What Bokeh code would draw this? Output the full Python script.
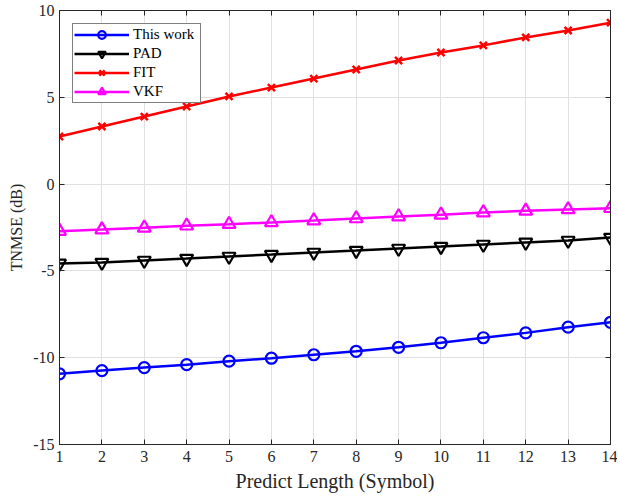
from bokeh.plotting import figure
from bokeh.models import Range1d, LinearAxis, FixedTicker
from bokeh.embed import file_html
from bokeh.resources import INLINE

# ---- data ----
predict_length = list(range(1, 15))
this_work = [-10.93, -10.74, -10.57, -10.40, -10.20, -10.03, -9.83, -9.63, -9.40, -9.14, -8.85, -8.57, -8.24, -7.96]
pad = [-4.57, -4.52, -4.40, -4.29, -4.17, -4.06, -3.94, -3.83, -3.71, -3.60, -3.48, -3.36, -3.25, -3.08]
fit = [2.74, 3.32, 3.89, 4.47, 5.05, 5.56, 6.08, 6.60, 7.12, 7.58, 7.99, 8.45, 8.85, 9.30]
vkf = [-2.71, -2.62, -2.52, -2.40, -2.31, -2.21, -2.10, -1.98, -1.87, -1.77, -1.64, -1.54, -1.46, -1.39]
x_ticks = list(range(1, 15))
y_ticks = [-15, -10, -5, 0, 5, 10]

AX = "#262626"
FONT = "Liberation Serif"

p = figure(frame_width=551, frame_height=434,
           x_range=Range1d(1, 14), y_range=Range1d(-15, 10),
           output_backend="svg", toolbar_location=None,
           min_border_left=59, min_border_top=10, min_border_right=7, min_border_bottom=52,
           x_axis_label="Predict Length (Symbol)", y_axis_label="TNMSE (dB)")

p.background_fill_color = "white"
p.border_fill_color = "white"
p.outline_line_color = AX
p.outline_line_width = 1

for ax in (p.xaxis[0], p.yaxis[0]):
    ax.major_tick_in = 5
    ax.major_tick_out = 0
    ax.minor_tick_line_color = None
    ax.axis_line_color = AX
    ax.major_tick_line_color = AX
    ax.major_label_text_font = FONT
    ax.major_label_text_font_size = "16px"
    ax.major_label_text_color = AX
    ax.axis_label_text_font = FONT
    ax.axis_label_text_font_style = "normal"
    ax.axis_label_text_color = AX

p.xaxis[0].ticker = FixedTicker(ticks=x_ticks)
p.yaxis[0].ticker = FixedTicker(ticks=y_ticks)
p.xaxis[0].major_label_overrides = {t: str(t) for t in x_ticks}
p.yaxis[0].major_label_overrides = {t: str(t) for t in y_ticks}
p.xaxis[0].major_label_standoff = 6
p.xaxis[0].axis_label_standoff = 5
p.xaxis[0].axis_label_text_font_size = "20px"
p.yaxis[0].major_label_standoff = 5
p.yaxis[0].axis_label_standoff = 5
p.yaxis[0].axis_label_text_font_size = "16px"

# box ticks on top and right (no labels)
top = LinearAxis(ticker=FixedTicker(ticks=x_ticks))
right = LinearAxis(ticker=FixedTicker(ticks=y_ticks))
for ax in (top, right):
    ax.major_tick_in = 5
    ax.major_tick_out = 0
    ax.minor_tick_line_color = None
    ax.axis_line_color = AX
    ax.major_tick_line_color = AX
    ax.major_label_text_font_size = "0px"
    ax.major_label_text_color = None
    ax.major_label_standoff = 0
p.add_layout(top, "above")
p.add_layout(right, "right")

p.xgrid.ticker = FixedTicker(ticks=x_ticks)
p.ygrid.ticker = FixedTicker(ticks=y_ticks)
p.grid.grid_line_color = "#e0e0e0"
p.grid.grid_line_width = 1

LW = 2.5
p.line(predict_length, this_work, color="#0000ff", line_width=LW, legend_label="This work")
p.scatter(predict_length, this_work, marker="circle", size=11, line_color="#0000ff",
          fill_color=None, line_width=2.2, legend_label="This work")
p.line(predict_length, pad, color="black", line_width=LW, legend_label="PAD")
p.scatter(predict_length, pad, marker="inverted_triangle", size=13, line_color="black",
          fill_color=None, line_width=2.2, legend_label="PAD")
p.line(predict_length, fit, color="#ff0000", line_width=LW, legend_label="FIT")
p.scatter(predict_length, fit, marker="x", size=10, line_color="#ff0000",
          line_width=2.5, legend_label="FIT")
p.line(predict_length, vkf, color="#ff00ff", line_width=LW, legend_label="VKF")
p.scatter(predict_length, vkf, marker="triangle", size=13, line_color="#ff00ff",
          fill_color=None, line_width=2.2, legend_label="VKF")

lg = p.legend[0]
lg.location = "top_left"
lg.margin = 13
lg.padding = 1
lg.spacing = -1
lg.glyph_width = 55
lg.glyph_height = 19
lg.label_height = 19
lg.label_width = 66
lg.label_standoff = 4
lg.label_text_font = FONT
lg.label_text_font_size = "15px"
lg.label_text_color = "black"
lg.border_line_color = "black"
lg.border_line_width = 1
lg.background_fill_color = "white"
lg.background_fill_alpha = 1

open("out.html", "w").write(file_html(p, INLINE))
